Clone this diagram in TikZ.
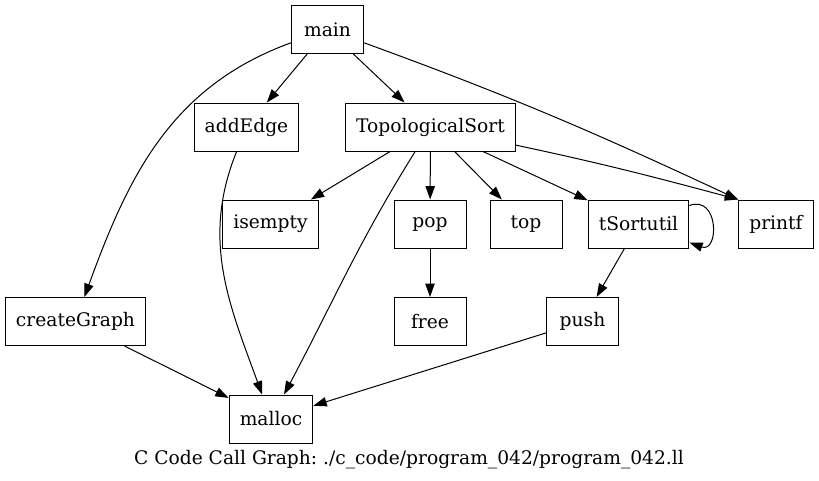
\documentclass[tikz,border=0pt]{standalone}
\usepackage{fontspec}
\setmainfont{DejaVu Serif}
\usepackage{tikz}
\usetikzlibrary{arrows.meta}

\begin{document}
\begin{tikzpicture}[x=0.75pt,y=-0.75pt,-{Triangle[length=10pt,width=7pt]},line width=0.75pt]
\fontsize{14}{17}\selectfont\frenchspacing
\tikzstyle{func}=[rectangle, draw=black, minimum width=54pt, minimum height=36pt, inner xsep=8pt]
\useasboundingbox (0,0) rectangle (819,480);
\node[func] (main) at (327.5,29.5) {main};
\node[func] (addEdge) at (246.5,127) {addEdge};
\node[func] (topoSort) at (430.5,127) {TopologicalSort};
\node[func] (isempty) at (270.5,224) {isempty};
\node[func] (pop) at (430,224) {pop};
\node[func] (top) at (526,224) {top};
\node[func] (tSortutil) at (638.5,224) {tSortutil};
\node[func] (printf) at (776,224) {printf};
\node[func] (createGraph) at (75.5,321.5) {createGraph};
\node[func] (free) at (430,321.5) {free};
\node[func] (push) at (582.5,321.5) {push};
\node[func] (malloc) at (271,419) {malloc};
\node (caption) at (409,460) {C Code Call Graph: ./c\_code/program\_042/program\_042.ll};
\foreach \from/\to in {main/addEdge,main/topoSort,topoSort/isempty,topoSort/pop,topoSort/top,topoSort/tSortutil,pop/free,tSortutil/push,createGraph/malloc,push/malloc}
    \path (\from) edge (\to);
\path (main) edge[out=200,in=70] (createGraph);
\path (main) edge[out=-20,in=155] (printf.north west);
\path (topoSort) edge[out=-12,in=165] (printf.north west);
\path (topoSort) edge[out=238,in=62] (malloc);
\path (addEdge) edge[out=248,in=110] (malloc);
\path (tSortutil) edge[out=20,in=-20,looseness=2.2] (tSortutil);
\end{tikzpicture}
\end{document}
